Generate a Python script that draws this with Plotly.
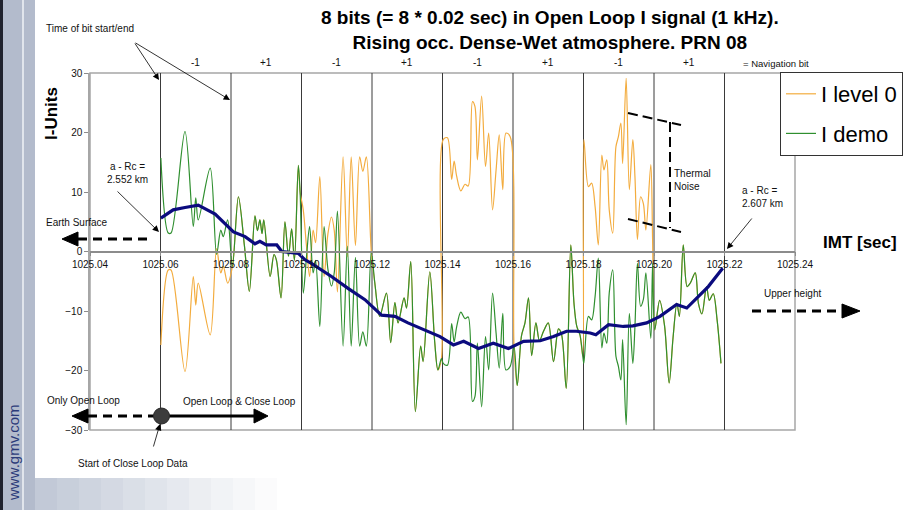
import plotly.graph_objects as go

# ---------------- data ----------------
t0 = 1025.06                      # start of first navigation bit [s]
bit_ms = 20                       # bit length [ms]
bits = [-1, 1, -1, 1, -1, 1, -1, 1]
bit_labels = ["-1", "+1", "-1", "+1", "-1", "+1", "-1", "+1"]

# I demo (green) : time offset from t0 in ms, value in I-units
demo_ms = [0.1, 2.2, 3.0, 6.95, 9.3, 10.0, 10.7, 14.1, 15.9, 17.1, 17.8, 19.05,
           20.4, 22.1, 23.8, 25.2, 26.8, 27.5, 28.2, 28.8, 29.3, 31.1, 32.2, 32.9, 34.2, 35.3, 36.3, 37.2, 38.0, 39.1, 39.6,
           40.5, 41.4, 42.3, 43.3, 44.0, 45.2, 46.4, 47.5, 48.5, 49.3, 50.2, 51.8, 53.0, 54.1, 55.3, 56.5, 57.4, 58.4, 59.8,
           60.8, 62.2, 64.1, 65.3, 66.5, 67.4, 69.1, 69.8, 71.0, 72.3, 73.8, 74.5, 76.4, 77.8, 78.7, 79.7,
           80.2, 81.4, 82.6, 83.3, 84.0, 85.2, 86.4, 87.3, 88.5, 89.2, 89.9, 91.1, 92.2, 93.1, 94.2, 95.2, 96.1, 97.1, 98.0, 99.2,
           100.3, 101.2, 102.4, 103.4, 104.4, 105.3, 106.5, 107.5, 108.6, 110.0, 111.5, 112.9, 113.8, 115.1, 116.4, 117.3, 118.1, 119.0, 119.8,
           120.1, 121.4, 122.3, 123.3, 124.2, 125.2, 125.8, 126.6, 127.3, 128.3, 129.2, 129.9, 130.6, 131.1, 132.1, 133.0, 134.0, 134.6, 135.3, 136.2, 137.0, 137.7, 139.1, 139.6,
           140.2, 141.6, 143.0, 144.3, 145.4, 146.5, 147.2, 148.3, 149.4, 150.3, 151.7, 152.6, 153.6, 154.9, 155.7, 156.8, 157.9, 159.0]
demo_val = [15.7, 3.1, 3.1, 20.2, 4.2, 9.0, 5.3, 14.0, -0.5, 3.6, 2.5, 5.3,
            -2.5, 9.2, 1.0, -6.7, 6.0, 3.5, 5.3, 3.0, 5.3, -4.2, -0.5, -1.5, -7.8, 5.0, -0.8, 3.8, -1.5, 14.5, 10.0,
            -7.0, -1.0, 4.2, -3.6, -1.5, -12.6, 4.2, -3.0, -5.8, -3.5, 6.8, -15.9, 0.9, -15.9, -1.0, -15.9, -13.5, -15.9, 0.0,
            -5.3, -10.9, -7.0, -15.3, -8.6, -12.0, -7.8, -9.5, -1.7, -26.9, -15.9, -18.5, -3.4, -15.3, -19.9, -18.0,
            -18.8, -19.1, -12.1, -15.2, -12.7, -10.2, -11.3, -11.0, -25.2, -24.4, -15.4, -26.1, -14.3, -19.9, -7.0, -13.7, -19.6, -10.4, -19.9, -19.3,
            -16.0, -22.5, -14.2, -12.0, -7.8, -17.5, -12.0, -15.0, -13.5, -12.0, -18.5, -13.0, -14.0, -23.0, 1.1, -8.7, -12.6, -14.0, -17.6,
            -18.8, -10.9, -11.5, -7.5, -1.1, -16.2, -13.7, -15.4, -7.0, -3.1, -17.6, -19.3, -21.6, -14.8, -29.1, -10.4, -18.8, -12.5, -2.0, -9.2, -8.0, -3.6, -14.6, -2.0,
            -13.2, -8.2, -12.5, -22.1, -14.5, -8.7, -10.9, 1.1, -5.9, -5.3, -3.6, -8.7, -10.5, -5.9, -8.2, -7.1, -11.5, -18.8]

# smoothed trend (navy)
trend_ms = [0.1, 3.6, 6.95, 10.7, 15.5, 18.3, 20.7, 24.0, 26.8, 28.2, 30.0, 33.0, 34.4, 39.1, 41.0, 42.8,
            48.5, 53.2, 58.0, 62.7, 66.5, 70.2, 74.0, 76.8, 79.3, 83.1, 86.0, 90.2, 94.4, 98.7, 103.0,
            107.7, 111.5, 115.2, 118.0, 121.9, 123.5, 127.1, 131.3, 134.0, 137.9, 141.7, 146.4, 149.3,
            152.6, 155.4, 158.7, 159.5]
trend_val = [5.6, 7.0, 7.4, 7.8, 6.3, 4.7, 3.3, 2.5, 1.3, 1.7, 1.1, 1.1, 0.0, -0.3, -1.4, -2.0,
             -4.2, -6.2, -8.1, -10.7, -10.9, -12.0, -12.9, -13.7, -14.3, -15.7, -15.1, -16.3, -15.4, -16.3, -15.1,
             -15.0, -14.3, -13.4, -13.4, -13.7, -14.0, -12.3, -12.6, -12.5, -12.0, -10.9, -8.9, -9.5,
             -7.5, -5.9, -3.4, -2.8]

# ---------------- derived series ----------------
demo_t = [t0 + m / 1000.0 for m in demo_ms]
trend_t = [t0 + m / 1000.0 for m in trend_ms]
level0_val = [v * bits[min(int(m // bit_ms), len(bits) - 1)] for m, v in zip(demo_ms, demo_val)]
bit_edges = [t0 + i * bit_ms / 1000.0 for i in range(len(bits) + 1)]
bit_centers = [t0 + (i + 0.5) * bit_ms / 1000.0 for i in range(len(bits))]

# ---------------- figure ----------------
W, H = 916, 510
L, R, T, B = 90, 121, 73, 80
PW, PH = W - L - R, H - T - B


def px(x):
    return (x - L) / PW


def py(y):
    return (H - B - y) / PH


FONT = "Arial, Liberation Sans, sans-serif"

fig = go.Figure()
fig.add_trace(go.Scatter(x=demo_t, y=level0_val, mode="lines", name="I level 0",
                         line=dict(color="#f3ac3e", width=1.2, shape="spline", smoothing=0.9),
                         legendgroup="a"))
fig.add_trace(go.Scatter(x=demo_t, y=demo_val, mode="lines", name="I demo",
                         line=dict(color="#2f8f2f", width=1.2, shape="spline", smoothing=0.9),
                         legendgroup="b"))
fig.add_trace(go.Scatter(x=trend_t, y=trend_val, mode="lines", showlegend=False,
                         line=dict(color="#0b0b7e", width=3.2)))

shapes = []
# slide background decorations
shapes += [
    dict(type="rect", xref="paper", yref="paper", x0=px(0), x1=px(35), y0=py(510), y1=py(0),
         fillcolor="#b3bbcc", line=dict(width=0), layer="below"),
    dict(type="rect", xref="paper", yref="paper", x0=px(0), x1=px(3), y0=py(510), y1=py(0),
         fillcolor="#20222e", line=dict(width=0), layer="below"),
    dict(type="rect", xref="paper", yref="paper", x0=px(22), x1=px(24), y0=py(510), y1=py(0),
         fillcolor="#e1e5ec", line=dict(width=0), layer="below"),
]
fade = ["#c2c9d7", "#c8cfdb", "#ced4df", "#d4d9e3", "#dadfe7", "#e0e4eb", "#e6e9ef",
        "#eceef2", "#f1f3f6", "#f6f7f9", "#fbfbfc"]
for i, c in enumerate(fade):
    x0 = 35 + i * 22
    shapes.append(dict(type="rect", xref="paper", yref="paper", x0=px(x0), x1=px(x0 + 22), y0=py(510), y1=py(478),
                       fillcolor=c, line=dict(width=0), layer="below"))

# plot frame
shapes.append(dict(type="rect", xref="paper", yref="paper", x0=0, x1=1, y0=0, y1=1,
                   line=dict(color="#a6a6a6", width=1.5), layer="below"))
# bit boundaries
for e in bit_edges:
    shapes.append(dict(type="line", xref="x", yref="y", x0=e, x1=e, y0=-30, y1=30,
                       line=dict(color="#3a3a3a", width=1), layer="below"))


def hline(x0, x1, y, dash, width=3):
    return dict(type="line", xref="paper", yref="paper", x0=px(x0), x1=px(x1), y0=py(y), y1=py(y),
                line=dict(color="black", width=width, dash=dash))


def tri(tipx, basex, y, half=7):
    return dict(type="path", xref="paper", yref="paper",
                path=f"M {px(tipx)},{py(y)} L {px(basex)},{py(y - half)} L {px(basex)},{py(y + half)} Z",
                fillcolor="black", line=dict(color="black", width=1))


# Earth surface arrow
shapes += [hline(78, 147, 239, "9px,6px"), tri(62, 78, 239)]
# Only open loop / open & close loop arrows
shapes += [hline(88, 160, 416, "9px,6px"), tri(72, 88, 416)]
shapes += [hline(160, 255, 416, "solid"), tri(268, 254, 416)]
shapes.append(dict(type="circle", xref="paper", yref="paper", x0=px(153.5), x1=px(169.5), y0=py(424), y1=py(408),
                   fillcolor="#3c3c3c", line=dict(color="#2a2a2a", width=1)))
# Upper height arrow
shapes += [hline(752, 842, 311, "9px,6px"), tri(860, 842, 311)]


def seg(x0, y0, x1, y1, dash="10px,5px", width=2):
    return dict(type="line", xref="paper", yref="paper", x0=px(x0), y0=py(y0), x1=px(x1), y1=py(y1),
                line=dict(color="black", width=width, dash=dash))


# Thermal noise markers
shapes += [seg(628, 113, 681, 125), seg(628, 219, 681, 232), seg(670, 122, 670, 228)]

ann = []


def text(x, y, s, size=10, bold=False, anchor="center", angle=0, color="#111"):
    ann.append(dict(xref="paper", yref="paper", x=px(x), y=py(y), text=f"<b>{s}</b>" if bold else s,
                    showarrow=False, xanchor=anchor, yanchor="middle", textangle=angle,
                    font=dict(family=FONT, size=size, color=color), align="left" if anchor == "left" else "center"))


def arrow(tipx, tipy, tailx, taily):
    ann.append(dict(xref="paper", yref="paper", x=px(tipx), y=py(tipy), ax=tailx - tipx, ay=taily - tipy,
                    text="", showarrow=True, arrowhead=2, arrowsize=1.6, arrowwidth=0.8,
                    arrowcolor="black", standoff=0))


text(550, 30, "8 bits (= 8 * 0.02 sec) in Open Loop I signal (1 kHz).<br>Rising occ. Dense-Wet atmosphere. PRN 08",
     size=19, bold=True, color="black")
text(51, 114, "I-Units", size=17, bold=True, angle=-90, color="black")
text(860, 242, "IMT [sec]", size=17, bold=True, color="black")
text(13, 453, "www.gmv.com", size=15, angle=-90, color="#2c3b7a")

text(90, 28, "Time of bit start/end", size=10)
arrow(159, 80, 134, 42)
arrow(230, 100, 134, 42)
text(127, 173, "a - Rc =<br>2.552 km", size=10)
arrow(159, 232, 116, 190)
text(77, 223, "Earth Surface", size=10)
text(83, 400, "Only Open Loop", size=10)
text(239, 401, "Open Loop &amp; Close Loop", size=10)
text(133, 463, "Start of Close Loop Data", size=10)
arrow(160, 424, 153, 448)
text(672, 180, "Thermal<br>Noise", size=10, anchor="left")
text(740, 197, "a - Rc =<br>2.607 km", size=10, anchor="left")
arrow(727, 249, 753, 217)
text(792, 293, "Upper height", size=10)
text(776, 63, "= Navigation bit", size=9.5)
for c, lab in zip(bit_centers, bit_labels):
    ann.append(dict(xref="x", yref="paper", x=c, y=py(62), text=lab, showarrow=False,
                    xanchor="center", yanchor="middle", font=dict(family=FONT, size=10, color="#111")))

fig.update_layout(
    width=W, height=H,
    margin=dict(l=L, r=R, t=T, b=B, autoexpand=False),
    paper_bgcolor="white", plot_bgcolor="white",
    font=dict(family=FONT, color="#111"),
    shapes=shapes, annotations=ann,
    showlegend=True,
    legend=dict(x=px(780), y=py(72), xanchor="left", yanchor="top", bgcolor="white",
                bordercolor="#333", borderwidth=1, font=dict(family=FONT, size=22, color="black"),
                itemwidth=30, tracegroupgap=8),
    xaxis=dict(range=[1025.04, 1025.24], tick0=1025.04, dtick=0.02, tickformat=".2f",
               anchor="free", position=0.5, showline=True, linecolor="#8c8c8c", linewidth=1.5,
               showgrid=False, zeroline=False, ticks="outside", ticklen=4, tickcolor="#8c8c8c",
               tickfont=dict(size=10, color="#111")),
    yaxis=dict(range=[-30, 30], dtick=10, showline=True, linecolor="#a6a6a6", linewidth=1.5,
               showgrid=False, zeroline=False, ticks="outside", ticklen=4, tickcolor="#8c8c8c",
               tickfont=dict(size=10, color="#111")),
)

fig.write_html("out.html")
